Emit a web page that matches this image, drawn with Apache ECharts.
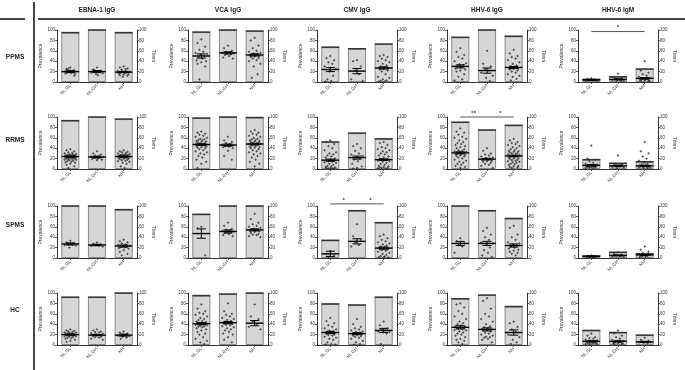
<!DOCTYPE html>
<html>
<head>
<meta charset="utf-8">
<script src="https://cdn.jsdelivr.net/npm/echarts@6/dist/echarts.min.js"></script>
<style>html,body{margin:0;padding:0;background:#fff}#chart{width:685px;height:370px}</style>
</head>
<body>
<div id="chart"></div>
<script>
const categories = ['NL.GL', 'NL.GH', 'NH'];
const antigens = ['EBNA-1 IgG', 'VCA IgG', 'CMV IgG', 'HHV-6 IgG', 'HHV-6 IgM'];
const groups = ['PPMS', 'RRMS', 'SPMS', 'HC'];
const yTicks = [0, 20, 40, 60, 80, 100];

// prevalence (%) per antigen [NL.GL, NL.GH, NH]
const prevalence_PPMS = [[95,100,95],[96,100,98],[67,64,73],[86,100,88],[5,10,25]];
const prevalence_RRMS = [[93,100,96],[98,100,99],[52,69,58],[90,75,84],[18,11,14]];
const prevalence_SPMS = [[100,100,93],[84,100,100],[34,91,68],[100,91,76],[4,11,8]];
const prevalence_HC   = [[92,92,100],[95,98,100],[79,77,92],[89,96,74],[28,24,19]];

// mean titers and SEM
const mean_PPMS = [[20,20,19],[50,56,52],[24,21,27],[30,22,28],[4,5,7]];
const sem_PPMS  = [[1.5,2,1],[4,2,2],[4,5,2],[3,5,2],[1,1,1.5]];
const mean_RRMS = [[24,23,24],[47,46,48],[17,22,18],[31,19,25],[7,6,6]];
const sem_RRMS  = [[1,1.5,1],[1.5,2,1.5],[2,3,1.5],[2,1.5,1.5],[1.5,1.5,1]];
const mean_SPMS = [[27,25,23],[47,51,54],[8,32,19],[28,28,24],[3,5,6]];
const sem_SPMS  = [[2,1.5,2],[9,3,2],[5,5,2],[4,4,3],[1,1,1]];
const mean_HC   = [[20,19,19],[41,43,42],[24,22,28],[34,30,24],[7,7,6]];
const sem_HC    = [[1,1,2],[2,2,5],[2,2,4],[3,3,5],[1,1,1]];

// individual titers per panel: [NL.GL, NL.GH, NH]
const titers_PPMS_EBNA = [[28,25,23,22,21,20,20,19,18,18,17,16,15,22,24,12,26],[28,24,22,20,19,18,17,15,21,23,13],[30,28,26,24,22,21,20,19,18,18,17,16,15,14,13,12,23,25,20,19,10]];
const titers_PPMS_VCA  = [[82,75,68,62,58,56,54,52,50,48,45,42,40,38,35,30,5],[70,65,60,58,57,56,55,54,53,52,50,47,45],[85,80,70,65,60,58,56,55,54,53,52,51,50,49,48,46,45,42,40,35,30,15,8]];
const titers_PPMS_CMV  = [[50,46,42,38,35,30,25,20,12,5,2,1],[42,40,30,22,15,5,2],[52,50,48,45,42,40,38,35,32,30,28,27,26,25,24,22,20,15,10,8,5,3,2,1,1]];
const titers_PPMS_H6G  = [[65,58,52,48,45,40,36,34,32,30,28,26,24,22,20,15,10,5,3],[60,35,30,25,22,18,12,8,2],[62,55,50,48,45,42,38,35,32,30,28,27,26,25,24,22,20,18,15,12,10,6,3]];
const titers_PPMS_H6M  = [[7,6,5,4,3,3,2],[16,10,8,6,5,4,3,3,2],[40,22,18,15,12,10,8,7,6,5,5,4,3,3,2,2]];

const titers_RRMS_EBNA = [[38,36,34,32,31,30,29,28,28,27,27,26,26,25,25,25,24,24,24,23,23,23,22,22,22,21,21,20,20,19,19,18,18,17,16,15,14,13,12,10,8,5,2],[34,30,28,26,25,24,23,22,22,21,20,19,18,17],[36,34,33,32,31,30,29,28,28,27,27,26,26,25,25,25,24,24,24,23,23,22,22,21,21,20,20,19,18,17,16,15,14,12,10,5,2]];
const titers_RRMS_VCA  = [[72,70,68,66,64,62,60,58,57,56,55,54,53,52,51,50,49,48,48,47,47,46,46,45,44,43,42,41,40,38,36,34,32,30,28,25,22,18,14,10,2],[62,55,52,50,48,47,46,45,45,44,43,42,40,35,25,18],[75,72,70,68,66,64,62,60,58,57,56,55,54,53,52,51,50,49,48,48,47,46,45,44,43,42,41,40,38,36,34,32,30,28,25,22,18,14,10,5]];
const titers_RRMS_CMV  = [[55,52,48,44,40,36,32,30,28,26,24,22,20,18,17,16,15,14,13,12,10,8,6,5,4,3,2,2,1,1,1],[48,44,40,35,30,28,25,22,20,18,15,10,5,2,1],[52,50,46,42,40,38,36,34,32,30,28,26,24,22,20,19,18,17,16,15,14,12,10,8,6,5,4,3,2,2,1,1]];
const titers_RRMS_H6G  = [[78,72,70,66,62,60,58,55,52,50,48,46,44,42,40,38,36,35,34,33,32,31,30,29,28,27,26,25,24,22,20,18,16,14,12,10,8,6,4,2],[40,35,30,28,26,24,22,21,20,19,18,17,16,15,14,12,10,8,6,2],[58,55,52,50,48,46,44,42,40,38,36,35,34,33,32,31,30,29,28,27,26,25,24,23,22,21,20,19,18,17,16,15,14,13,12,10,9,8,6,5,4,3,2]];
const titers_RRMS_H6M  = [[45,20,18,15,12,10,9,8,7,6,6,5,5,4,4,3,3,2,2],[26,10,8,6,5,4,3,2],[52,34,30,24,20,16,14,12,10,9,8,7,6,6,5,5,4,4,3,3,2,2]];

const titers_SPMS_EBNA = [[33,30,28,27,26,25,24,20],[30,27,26,25,24,23,22],[35,32,30,28,26,25,24,23,22,21,20,19,18,15,12,8,5]];
const titers_SPMS_VCA  = [[60,57,5],[68,62,56,54,53,52,51,50,49,48,46,44,42],[85,75,68,65,62,60,58,56,55,54,53,52,51,50,48,46,45,44,42,40]];
const titers_SPMS_CMV  = [[14,8,4,2],[65,42,35,30,25,22],[45,42,38,35,32,30,28,26,24,22,21,20,19,18,17,16,15,14,12,10,8,6,4,3,2,1,1]];
const titers_SPMS_H6G  = [[38,32,28,25,22,10],[58,52,45,40,35,30,28,25,20,15,10,5,2],[62,58,45,40,35,30,28,26,24,22,20,18,16,14,12,10,8,5]];
const titers_SPMS_H6M  = [[5,4,3,3,2],[11,8,6,5,4,3,3],[22,16,12,10,8,7,6,5,4,3,3,2]];

const titers_HC_EBNA = [[30,28,27,26,25,24,24,23,22,22,21,21,20,20,19,19,18,18,17,17,16,15,14,13,12,10,8,6],[30,28,26,25,24,23,22,21,20,20,19,19,18,18,17,16,15,14,12,10],[26,24,22,20,19,18,17,16,14,12]];
const titers_HC_VCA  = [[78,70,65,62,60,58,55,52,50,48,46,45,44,43,42,41,40,40,39,38,37,36,35,34,32,30,28,25,22,20,15,12,8,5,2],[80,65,60,58,55,52,50,48,46,45,44,43,42,42,41,40,39,38,36,34,32,30,28,25,22,20,15,10,5],[78,55,50,45,40,35,30]];
const titers_HC_CMV  = [[52,46,42,38,35,32,30,28,27,26,25,24,23,22,21,20,19,18,16,14,12,10,5,2,1,1],[50,40,35,32,30,28,26,25,24,23,22,21,20,19,18,17,16,14,12,8,5,2,1],[45,38,32,30,28,26,25,24,22,2]];
const titers_HC_H6G  = [[80,78,72,65,60,55,50,45,42,40,38,36,35,34,33,32,31,30,29,28,26,24,22,20,18,15,12,10,8,5,2],[90,85,70,60,55,50,45,40,36,34,32,31,30,29,28,26,24,22,20,18,16,15,14,12,10,5],[45,42,35,30,25,20,15,10,5,2]];
const titers_HC_H6M  = [[22,18,15,13,12,10,9,8,8,7,6,6,5,5,4,4,3,3,2,2,1],[28,22,18,15,12,10,8,7,6,5,5,4,3,3,2,2],[14,10,8,7,6,5,5,4,3]];

// significance: [group, antigen, fromCat, toCat, level, label]
const sigBars = [
  ['PPMS', 'HHV-6 IgM', 0, 2, 97, '*'],
  ['RRMS', 'HHV-6 IgG', 0, 1, 100, '**'],
  ['RRMS', 'HHV-6 IgG', 1, 2, 100, '*'],
  ['SPMS', 'CMV IgG', 0, 1, 104, '*'],
  ['SPMS', 'CMV IgG', 1, 2, 104, '*']
];

const prevalenceBy = { PPMS: prevalence_PPMS, RRMS: prevalence_RRMS, SPMS: prevalence_SPMS, HC: prevalence_HC };
const meanBy = { PPMS: mean_PPMS, RRMS: mean_RRMS, SPMS: mean_SPMS, HC: mean_HC };
const semBy = { PPMS: sem_PPMS, RRMS: sem_RRMS, SPMS: sem_SPMS, HC: sem_HC };
const titersBy = {
  PPMS: [titers_PPMS_EBNA, titers_PPMS_VCA, titers_PPMS_CMV, titers_PPMS_H6G, titers_PPMS_H6M],
  RRMS: [titers_RRMS_EBNA, titers_RRMS_VCA, titers_RRMS_CMV, titers_RRMS_H6G, titers_RRMS_H6M],
  SPMS: [titers_SPMS_EBNA, titers_SPMS_VCA, titers_SPMS_CMV, titers_SPMS_H6G, titers_SPMS_H6M],
  HC:   [titers_HC_EBNA, titers_HC_VCA, titers_HC_CMV, titers_HC_H6G, titers_HC_H6M]
};

// layout
const FONT = 'Liberation Sans, Arial, sans-serif';
const colLeft = [57, 188, 317, 447, 578];
const rowTop = [30, 117, 206, 293];
const rowLabelY = [57, 140, 225, 310];
const plotW = 80, plotH = 52;
const AX = '#333';
const spread = [0, -0.6, 0.6, -0.3, 0.3, -0.9, 0.9, -0.15, 0.45, -0.45, 0.15, -0.75, 0.75];

const option = { animation: false, grid: [], xAxis: [], yAxis: [], series: [], graphic: [] };

function yAxisDef(idx, pos, name) {
  return {
    gridIndex: idx, type: 'value', min: 0, max: 100, interval: 20, position: pos,
    name: name, nameLocation: 'middle', nameGap: pos === 'left' ? 11 : 12,
    nameRotate: pos === 'left' ? 90 : -90,
    nameTextStyle: { fontSize: 5, color: AX, fontFamily: FONT },
    axisLine: { show: true, lineStyle: { color: AX, width: 1 } },
    axisTick: { show: true, length: 2, lineStyle: { color: AX, width: 0.8 } },
    axisLabel: { fontSize: 4.5, color: AX, margin: 2, fontFamily: FONT },
    splitLine: { show: false }
  };
}

groups.forEach((g, r) => {
  antigens.forEach((a, c) => {
    const idx = r * 5 + c;
    option.grid.push({ left: colLeft[c], top: rowTop[r], width: plotW, height: plotH });
    option.xAxis.push({
      gridIndex: idx, type: 'category', data: categories,
      axisLine: { lineStyle: { color: AX, width: 1 } },
      axisTick: { show: true, alignWithLabel: true, length: 2, lineStyle: { color: AX, width: 0.8 } },
      axisLabel: { rotate: 45, fontSize: 4.5, color: AX, margin: 3, fontFamily: FONT, interval: 0 }
    });
    option.yAxis.push(yAxisDef(idx, 'left', 'Prevalence'));
    option.yAxis.push(yAxisDef(idx, 'right', 'Titers'));

    const prev = prevalenceBy[g][c];
    option.series.push({
      type: 'bar', xAxisIndex: idx, yAxisIndex: 2 * idx, data: prev, barWidth: '68%', z: 1,
      itemStyle: { color: '#d6d6d6', borderColor: '#8a8a8a', borderWidth: 1 }, silent: true
    });
    // dark top edge of the bars
    option.series.push({
      type: 'custom', xAxisIndex: idx, yAxisIndex: 2 * idx, z: 2, silent: true,
      data: prev.map((v, i) => [i, v]),
      renderItem: function (params, api) {
        const p = api.coord([api.value(0), api.value(1)]);
        const hw = api.size([1, 0])[0] * 0.34;
        return { type: 'line', shape: { x1: p[0] - hw, y1: p[1], x2: p[0] + hw, y2: p[1] },
          style: { stroke: '#333', lineWidth: 1.5 } };
      }
    });
    // individual titers
    const pts = [];
    titersBy[g][c].forEach((arr, ci) => arr.forEach((v, k) => pts.push([ci, v, k])));
    option.series.push({
      type: 'custom', xAxisIndex: idx, yAxisIndex: 2 * idx + 1, z: 3, silent: true,
      data: pts,
      renderItem: function (params, api) {
        const p = api.coord([api.value(0), api.value(1)]);
        const bw = api.size([1, 0])[0];
        const dx = spread[api.value(2) % spread.length] * bw * 0.24;
        return { type: 'circle', shape: { cx: p[0] + dx, cy: p[1], r: 0.75 },
          style: { fill: '#777', stroke: '#111', lineWidth: 0.5 } };
      }
    });
    // mean +/- SEM
    const m = meanBy[g][c], s = semBy[g][c];
    option.series.push({
      type: 'custom', xAxisIndex: idx, yAxisIndex: 2 * idx + 1, z: 4, silent: true,
      data: m.map((v, i) => [i, v, s[i]]),
      renderItem: function (params, api) {
        const x = api.value(0), mv = api.value(1), sv = api.value(2);
        const pm = api.coord([x, mv]);
        const pt = api.coord([x, mv + sv]);
        const pb = api.coord([x, mv - sv]);
        const bw = api.size([1, 0])[0];
        const hw = bw * 0.33, cw = bw * 0.17;
        const st = { stroke: '#000', lineWidth: 1 };
        return { type: 'group', children: [
          { type: 'line', shape: { x1: pm[0] - hw, y1: pm[1], x2: pm[0] + hw, y2: pm[1] }, style: { stroke: '#000', lineWidth: 1.4 } },
          { type: 'line', shape: { x1: pm[0], y1: pt[1], x2: pm[0], y2: pb[1] }, style: st },
          { type: 'line', shape: { x1: pm[0] - cw, y1: pt[1], x2: pm[0] + cw, y2: pt[1] }, style: st },
          { type: 'line', shape: { x1: pm[0] - cw, y1: pb[1], x2: pm[0] + cw, y2: pb[1] }, style: st }
        ] };
      }
    });
    const sig = sigBars.filter(b => b[0] === g && b[1] === a);
    if (sig.length) {
      option.series.push({
        type: 'custom', xAxisIndex: idx, yAxisIndex: 2 * idx, z: 5, silent: true, clip: false,
        data: sig.map(b => [b[2], b[3], b[4], b[5]]),
        renderItem: function (params, api) {
          const b = sig[params.dataIndex];
          const p1 = api.coord([b[2], b[4]]);
          const p2 = api.coord([b[3], b[4]]);
          return { type: 'group', children: [
            { type: 'line', shape: { x1: p1[0], y1: p1[1], x2: p2[0], y2: p2[1] }, style: { stroke: '#555', lineWidth: 1 } },
            { type: 'text', style: { text: b[5], x: (p1[0] + p2[0]) / 2, y: p1[1] - 1, align: 'center', verticalAlign: 'bottom',
              fill: '#333', font: 'bold 6px ' + FONT } }
          ] };
        }
      });
    }
  });
});

// headers, row labels and dividers
antigens.forEach((a, c) => {
  option.graphic.push({ type: 'text', silent: true,
    style: { text: a, x: colLeft[c] + plotW / 2, y: 10, align: 'center', verticalAlign: 'middle', fill: '#222', font: 'bold 6.5px ' + FONT } });
});
groups.forEach((g, r) => {
  option.graphic.push({ type: 'text', silent: true,
    style: { text: g, x: 15, y: rowLabelY[r], align: 'center', verticalAlign: 'middle', fill: '#222', font: 'bold 6.5px ' + FONT } });
});
option.graphic.push({ type: 'line', silent: true, shape: { x1: 38, y1: 19, x2: 685, y2: 19 }, style: { stroke: '#444', lineWidth: 2 } });
option.graphic.push({ type: 'line', silent: true, shape: { x1: 0, y1: 19, x2: 25, y2: 19 }, style: { stroke: '#444', lineWidth: 2 } });
option.graphic.push({ type: 'line', silent: true, shape: { x1: 34, y1: 2, x2: 34, y2: 370 }, style: { stroke: '#444', lineWidth: 2 } });

const chart = echarts.init(document.getElementById('chart'), null, { renderer: 'canvas' });
chart.setOption(option);
</script>
</body>
</html>
